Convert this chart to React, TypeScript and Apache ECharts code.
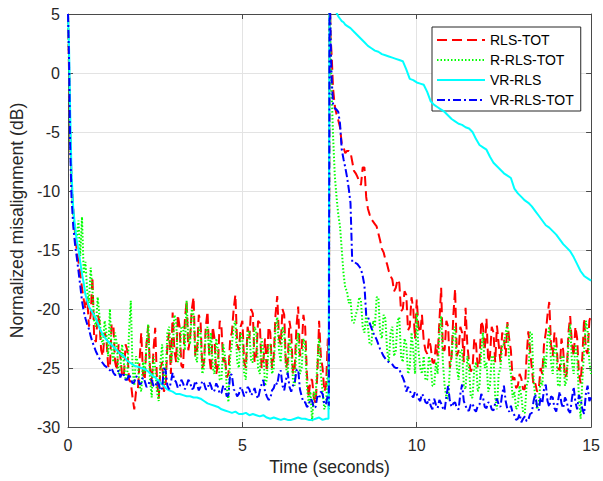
import React, { useEffect, useRef } from "react";
import * as echarts from "echarts";

// ---- time stamps (seconds) for the smooth VR-RLS curve ----
const TV1 = [
  0, 0.03, 0.06, 0.1, 0.15, 0.2, 0.25, 0.3, 0.35, 0.4, 0.45, 0.5,
  0.6, 0.7, 0.8, 0.9,
  1.0, 1.1, 1.2, 1.3, 1.4, 1.5, 1.6, 1.7, 1.8, 1.9,
  2.0, 2.1, 2.2, 2.3, 2.4, 2.5, 2.6, 2.7, 2.8, 2.9,
  3.0, 3.1, 3.2, 3.3, 3.4, 3.5, 3.6, 3.7, 3.8, 3.9,
  4.0, 4.1, 4.2, 4.3, 4.4, 4.5, 4.6, 4.7, 4.8, 4.9,
  5.0, 5.1, 5.2, 5.3, 5.4, 5.5, 5.6, 5.7, 5.8, 5.9,
  6.0, 6.1, 6.2, 6.3, 6.4, 6.5, 6.6, 6.7, 6.8, 6.9,
  7.0, 7.1, 7.2, 7.3, 7.4,
  7.47,
];
const TV2 = [
  7.5, 7.53, 7.56, 7.6, 7.65, 7.7, 7.75, 7.8, 7.85, 7.9, 7.95,
  8.0, 8.1, 8.2, 8.3, 8.4, 8.5, 8.6, 8.7, 8.8, 8.9,
  9.0, 9.1, 9.2, 9.3, 9.4, 9.5, 9.6, 9.7, 9.8, 9.9,
  10.0, 10.1, 10.2, 10.3, 10.4, 10.5, 10.6, 10.7, 10.8, 10.9,
  11.0, 11.1, 11.2, 11.3, 11.4, 11.5, 11.6, 11.7, 11.8, 11.9,
  12.0, 12.1, 12.2, 12.3, 12.4, 12.5, 12.6, 12.7, 12.8, 12.9,
  13.0, 13.1, 13.2, 13.3, 13.4, 13.5, 13.6, 13.7, 13.8, 13.9,
  14.0, 14.1, 14.2, 14.3, 14.4, 14.5, 14.6, 14.7, 14.8, 14.9,
  15.0,
];

// ---- time stamps (seconds) for the noisy TOT curves ----
const TN1 = [
  0, 0.03, 0.06, 0.1, 0.15, 0.2, 0.25, 0.3, 0.35, 0.4, 0.45,
  0.5, 0.55, 0.6, 0.65, 0.7, 0.75, 0.8, 0.85, 0.9, 0.95,
  1.0, 1.05, 1.1, 1.15, 1.2, 1.25, 1.3, 1.35, 1.4, 1.45, 1.5, 1.55, 1.6, 1.65, 1.7, 1.75, 1.8, 1.85, 1.9, 1.95,
  2.0, 2.05, 2.1, 2.15, 2.2, 2.25, 2.3, 2.35, 2.4, 2.45, 2.5, 2.55, 2.6, 2.65, 2.7, 2.75, 2.8, 2.85, 2.9, 2.95,
  3.0, 3.05, 3.1, 3.15, 3.2, 3.25, 3.3, 3.35, 3.4, 3.45, 3.5, 3.55, 3.6, 3.65, 3.7, 3.75, 3.8, 3.85, 3.9, 3.95,
  4.0, 4.05, 4.1, 4.15, 4.2, 4.25, 4.3, 4.35, 4.4, 4.45, 4.5, 4.55, 4.6, 4.65, 4.7, 4.75, 4.8, 4.85, 4.9, 4.95,
  5.0, 5.05, 5.1, 5.15, 5.2, 5.25, 5.3, 5.35, 5.4, 5.45, 5.5, 5.55, 5.6, 5.65, 5.7, 5.75, 5.8, 5.85, 5.9, 5.95,
  6.0, 6.05, 6.1, 6.15, 6.2, 6.25, 6.3, 6.35, 6.4, 6.45, 6.5, 6.55, 6.6, 6.65, 6.7, 6.75, 6.8, 6.85, 6.9, 6.95,
  7.0, 7.05, 7.1, 7.15, 7.2, 7.25, 7.3, 7.35, 7.4, 7.45,
  7.48,
];
const TN2 = [
  7.5, 7.53, 7.56,
  7.6, 7.65, 7.7, 7.75, 7.8, 7.85, 7.9, 7.95,
  8.0, 8.05, 8.1, 8.15, 8.2, 8.25, 8.3, 8.35, 8.4, 8.45, 8.5, 8.55, 8.6, 8.65, 8.7, 8.75, 8.8, 8.85, 8.9, 8.95,
  9.0, 9.05, 9.1, 9.15, 9.2, 9.25, 9.3, 9.35, 9.4, 9.45, 9.5, 9.55, 9.6, 9.65, 9.7, 9.75, 9.8, 9.85, 9.9, 9.95,
  10.0, 10.05, 10.1, 10.15, 10.2, 10.25, 10.3, 10.35, 10.4, 10.45, 10.5, 10.55, 10.6, 10.65, 10.7, 10.75, 10.8, 10.85, 10.9, 10.95,
  11.0, 11.05, 11.1, 11.15, 11.2, 11.25, 11.3, 11.35, 11.4, 11.45, 11.5, 11.55, 11.6, 11.65, 11.7, 11.75, 11.8, 11.85, 11.9, 11.95,
  12.0, 12.05, 12.1, 12.15, 12.2, 12.25, 12.3, 12.35, 12.4, 12.45, 12.5, 12.55, 12.6, 12.65, 12.7, 12.75, 12.8, 12.85, 12.9, 12.95,
  13.0, 13.05, 13.1, 13.15, 13.2, 13.25, 13.3, 13.35, 13.4, 13.45, 13.5, 13.55, 13.6, 13.65, 13.7, 13.75, 13.8, 13.85, 13.9, 13.95,
  14.0, 14.05, 14.1, 14.15, 14.2, 14.25, 14.3, 14.35, 14.4, 14.45, 14.5, 14.55, 14.6, 14.65, 14.7, 14.75, 14.8, 14.85, 14.9, 14.95,
  15.0,
];

// ---- RLS-TOT (dB) ----
const rlsTot1 = [
  5, 0.0, -5.0, -9.0, -11.5, -13.5, -15.0, -16.0, -17.0, -18.2, -19.2,
  -20.0, -19.0, -21.5, -20.5, -17.3, -22.5, -22.8, -20.5, -21.0, -23.5,
  -24.0, -22.0, -22.5, -24.8, -25.0, -21.3, -21.3, -24.5, -25.2, -23.0, -24.0, -25.6, -25.8, -23.0, -23.5, -26.0, -26.2, -27.5, -28.5, -27.0,
  -27.0, -24.5, -22.0, -25.5, -26.0, -23.0, -21.4, -25.0, -26.5, -23.5, -21.6, -26.0, -27.6, -25.0, -24.5, -27.0, -26.5, -23.0, -22.0, -25.5,
  -20.3, -23.5, -24.5, -20.5, -21.5, -24.8, -25.0, -21.0, -19.3, -23.5, -22.5, -20.0, -19.0, -24.0, -23.5, -20.5, -21.0, -25.0, -24.5, -21.5,
  -20.2, -24.0, -25.3, -21.5, -22.5, -25.5, -24.8, -21.0, -21.5, -24.5, -24.0, -25.8, -25.5, -22.5, -22.0, -20.0, -18.8, -23.0, -23.5, -21.5,
  -21.0, -24.5, -25.0, -21.5, -22.5, -20.0, -20.4, -24.5, -24.0, -21.0, -21.2, -25.0, -24.5, -22.5, -25.3, -21.5, -22.0, -25.0, -24.0, -20.5,
  -18.9, -22.5, -23.0, -20.0, -20.5, -25.0, -24.5, -21.0, -22.0, -25.5, -25.0, -21.5, -19.8, -24.0, -23.5, -20.5, -21.5, -25.5, -27.5, -26.0,
  -26.0, -27.5, -28.0, -25.5, -21.0, -24.0, -25.0, -27.0, -26.5, -22.5,
  -27.0,
];
const rlsTot2 = [
  8.0, 3.0, 1.5,
  -1.3, -2.8, -3.5, -4.0, -4.6, -6.0, -6.3, -6.8,
  -6.6, -6.6, -6.7, -7.5, -8.3, -8.5, -8.8, -9.2, -9.5, -8.0, -8.0, -10.5, -11.5, -12.0, -12.4, -12.6, -12.8, -13.0, -13.6, -14.2,
  -14.9, -15.2, -15.8, -16.2, -16.8, -17.2, -17.5, -18.5, -18.2, -17.5, -17.8, -20.2, -20.0, -18.5, -18.8, -21.8, -21.5, -19.0, -20.0, -22.5,
  -19.2, -21.5, -22.0, -20.5, -22.7, -23.5, -23.8, -22.5, -23.2, -24.5, -24.6, -23.0, -24.0, -21.0, -18.2, -23.5, -23.5, -21.0, -21.5, -25.0,
  -24.0, -20.5, -18.3, -24.0, -23.5, -21.5, -22.0, -24.5, -19.9, -23.0, -24.5, -25.3, -25.0, -22.5, -23.0, -25.0, -24.5, -21.0, -21.5, -23.5,
  -20.8, -24.5, -24.0, -21.5, -22.0, -24.5, -21.4, -23.0, -24.5, -22.0, -22.5, -24.0, -21.1, -22.5, -23.5, -26.0, -25.8, -26.7, -26.5, -25.5,
  -25.9, -26.8, -26.8, -24.0, -21.9, -23.5, -25.0, -26.5, -26.3, -27.0, -26.8, -25.0, -25.5, -23.0, -22.0, -20.5, -19.4, -23.0, -24.0, -22.0,
  -22.5, -25.0, -25.2, -22.5, -23.5, -25.8, -25.5, -22.0, -20.6, -23.0, -24.0, -21.5, -22.5, -25.5, -26.3, -24.0, -20.8, -23.5, -23.8, -21.0,
  -20.5,
];

// ---- R-RLS-TOT (dB) ----
const rRlsTot1 = [
  5, 0.5, -5.5, -9.5, -12.0, -13.5, -14.0, -12.5, -15.5, -12.2, -17.0,
  -16.0, -18.5, -19.5, -16.5, -18.4, -21.0, -21.5, -19.0, -20.5, -22.5,
  -23.0, -21.0, -22.0, -24.0, -20.0, -23.5, -24.5, -22.0, -23.0, -25.5, -25.0, -23.0, -24.5, -26.0, -25.5, -22.0, -19.3, -25.0, -26.5, -24.0,
  -24.5, -26.5, -27.0, -24.5, -25.5, -23.0, -21.3, -26.0, -27.5, -24.0, -25.0, -27.0, -27.8, -24.5, -23.0, -26.5, -25.5, -22.0, -21.5, -24.5,
  -23.5, -20.5, -21.0, -24.5, -24.0, -21.5, -21.5, -23.5, -19.3, -22.5, -23.0, -20.0, -20.5, -24.0, -24.5, -21.5, -22.0, -25.5, -25.0, -22.0,
  -21.5, -24.0, -22.0, -25.0, -25.5, -22.5, -23.5, -26.0, -26.0, -23.0, -24.0, -26.5, -27.9, -24.0, -23.0, -21.5, -21.0, -24.5, -25.0, -22.0,
  -22.5, -25.5, -26.0, -22.0, -21.8, -24.5, -24.5, -21.5, -22.0, -25.0, -25.5, -22.5, -23.5, -26.5, -26.0, -23.0, -23.0, -25.5, -25.0, -21.5,
  -20.7, -23.5, -24.5, -21.5, -22.0, -25.0, -25.5, -22.5, -23.5, -26.0, -26.5, -23.0, -22.0, -25.5, -25.0, -22.5, -23.0, -26.5, -28.0, -27.0,
  -29.5, -27.0, -27.5, -24.5, -22.5, -25.5, -27.0, -28.5, -28.0, -25.0,
  -28.5,
];
const rRlsTot2 = [
  8.0, 2.0, -1.7,
  -5.3, -8.7, -10.5, -12.0, -13.0, -15.0, -17.0, -18.2,
  -18.5, -19.5, -19.2, -21.0, -21.2, -20.5, -20.0, -19.0, -19.3, -21.5, -22.0, -20.5, -21.5, -23.0, -23.0, -21.0, -21.5, -19.0, -19.0, -22.0,
  -22.5, -20.5, -20.8, -23.5, -24.5, -22.0, -21.5, -24.0, -23.5, -21.0, -20.7, -24.0, -24.5, -22.5, -23.0, -25.5, -25.0, -22.0, -23.5, -25.5,
  -20.3, -23.5, -25.0, -25.5, -24.0, -26.0, -26.0, -24.0, -24.8, -26.5, -26.5, -24.5, -25.5, -22.0, -20.6, -24.5, -26.5, -27.5, -27.6, -25.0,
  -24.0, -22.0, -21.5, -25.0, -26.0, -23.5, -23.5, -26.5, -26.8, -24.0, -25.0, -27.5, -27.5, -25.0, -24.5, -27.0, -26.5, -23.5, -22.0, -25.0,
  -24.5, -27.0, -26.5, -24.0, -24.0, -27.5, -28.5, -25.5, -25.0, -23.0, -23.0, -22.0, -21.3, -24.5, -25.5, -27.5, -27.0, -28.5, -28.2, -26.5,
  -27.4, -28.8, -28.8, -26.5, -26.0, -22.0, -22.0, -26.0, -27.5, -28.5, -28.0, -26.0, -26.5, -24.0, -25.0, -22.5, -21.5, -24.5, -25.5, -23.0,
  -23.5, -26.5, -26.5, -24.0, -24.0, -26.5, -26.0, -23.0, -21.3, -24.5, -25.5, -23.0, -24.0, -27.5, -29.3, -26.0, -23.5, -21.0, -21.8, -24.5,
  -25.5,
];

// ---- VR-RLS (dB) ----
const vrRls1 = [
  5, 2.0, -3.0, -8.5, -11.5, -13.0, -14.2, -15.0, -16.0, -17.0, -17.8, -18.8,
  -19.8, -20.3, -20.8, -21.6,
  -22.2, -22.6, -22.9, -23.2, -23.5, -23.8, -24.0, -24.4, -24.6, -24.8,
  -24.9, -25.0, -25.1, -25.3, -25.6, -25.8, -26.1, -26.4, -26.7, -26.9,
  -27.0, -27.2, -27.2, -27.3, -27.4, -27.4, -27.5, -27.5, -27.6, -27.8,
  -28.0, -28.1, -28.2, -28.3, -28.5, -28.6, -28.7, -28.8, -28.7, -28.9,
  -28.9, -28.8, -29.0, -28.9, -29.0, -29.1, -29.0, -29.2, -29.3, -29.2,
  -29.3, -29.4, -29.3, -29.4, -29.4, -29.3, -29.2, -29.3, -29.3, -29.4,
  -29.4, -29.3, -29.2, -29.4, -29.3,
  -29.3,
];
const vrRls2 = [
  8.0, 7.5, 7.0, 6.2, 5.6, 5.1, 4.8, 4.6, 4.4, 4.3, 4.1,
  4.0, 3.8, 3.5, 3.2, 2.9, 2.6, 2.3, 2.1, 1.9, 1.8,
  1.6, 1.5, 1.4, 1.3, 1.2, 1.1, 1.0, 0.3, -0.5, -0.6,
  -0.8, -0.9, -1.0, -1.6, -2.4, -2.7, -2.9, -3.1, -3.3, -3.6,
  -3.9, -4.1, -4.3, -4.4, -4.6, -4.7, -5.0, -5.6, -6.1, -6.3,
  -6.5, -7.1, -7.6, -7.9, -8.2, -8.5, -8.7, -8.9, -9.8, -10.2,
  -10.5, -10.8, -11.0, -11.3, -11.7, -12.1, -12.5, -12.9, -13.1, -13.4,
  -13.7, -14.1, -14.5, -14.8, -15.1, -15.6, -16.2, -16.8, -17.2, -17.4,
  -17.6,
];

// ---- VR-RLS-TOT (dB) ----
const vrRlsTot1 = [
  5, 1.0, -6.0, -10.5, -13.0, -14.5, -15.6, -16.8, -18.0, -19.3, -20.2,
  -20.8, -21.3, -21.7, -22.3, -22.8, -23.2, -23.6, -23.9, -24.2, -24.4,
  -24.6, -24.8, -24.9, -25.1, -25.2, -25.0, -25.4, -25.6, -25.5, -25.2, -25.8, -25.4, -25.6, -26.0, -26.0, -25.5, -25.9, -26.3, -26.2, -25.7,
  -25.8, -26.4, -26.3, -25.8, -26.1, -26.6, -26.5, -26.0, -26.0, -26.5, -26.6, -26.1, -26.4, -26.9, -26.7, -25.0, -25.2, -26.5, -26.8, -26.2,
  -25.4, -26.0, -26.2, -26.7, -26.6, -26.0, -26.3, -26.8, -26.5, -26.0, -26.2, -26.8, -26.7, -26.1, -26.4, -26.9, -26.6, -26.1, -26.3, -26.8,
  -26.8, -26.2, -26.5, -27.0, -26.9, -26.3, -26.6, -27.2, -27.1, -26.5, -26.7, -27.4, -27.3, -25.5, -25.6, -26.8, -27.0, -27.4, -27.2, -26.6,
  -26.9, -27.4, -27.2, -26.6, -26.8, -27.3, -27.1, -26.7, -27.3, -27.6, -26.9, -26.4, -26.0, -27.0, -27.4, -27.7, -27.6, -26.9, -26.7, -26.2,
  -26.4, -25.5, -25.2, -26.5, -26.9, -26.0, -25.4, -26.6, -27.0, -26.5, -26.3, -25.2, -25.1, -26.8, -27.4, -27.9, -27.9, -28.3, -28.2, -27.6,
  -27.8, -28.4, -28.3, -27.4, -27.6, -27.0, -27.2, -28.1, -28.0, -27.3,
  -28.2,
];
const vrRlsTot2 = [
  8.0, 3.0, -0.5,
  -2.6, -3.0, -3.1, -3.3, -4.3, -6.5, -7.3, -8.0,
  -8.8, -9.8, -11.0, -16.0, -16.0, -16.1, -16.2, -16.4, -16.6, -17.2, -18.0, -20.5, -20.6, -21.2, -21.6, -22.0, -22.3, -22.6, -23.0, -23.4,
  -23.7, -24.0, -24.2, -24.4, -24.5, -24.6, -24.7, -24.9, -25.0, -25.0, -25.1, -25.5, -25.8, -26.2, -27.0, -26.6, -26.9, -27.3, -27.5, -27.0,
  -27.2, -27.6, -27.8, -27.2, -27.4, -27.9, -28.0, -27.6, -28.2, -28.5, -27.6, -28.1, -28.4, -27.7, -28.0, -28.4, -28.6, -27.4, -26.5, -27.8,
  -28.3, -28.0, -27.9, -28.4, -28.5, -27.2, -26.4, -27.8, -28.2, -28.6, -28.6, -28.1, -28.0, -28.5, -28.7, -28.2, -28.1, -27.2, -27.5, -28.3,
  -28.4, -27.9, -28.0, -28.5, -28.6, -28.0, -27.6, -28.1, -28.3, -27.2, -26.5, -27.8, -28.5, -28.7, -28.2, -28.8, -29.0, -29.4, -29.3, -28.9,
  -29.6, -29.3, -29.1, -29.5, -29.4, -28.9, -28.8, -27.8, -27.2, -28.3, -28.6, -27.5, -28.0, -26.8, -26.4, -27.8, -28.3, -27.4, -27.5, -28.4,
  -28.7, -27.8, -27.0, -28.0, -28.4, -27.5, -27.8, -28.6, -28.8, -27.6, -26.6, -27.9, -28.5, -27.3, -27.6, -28.5, -28.9, -27.2, -26.5, -27.8,
  -27.5,
];

const SERIES_NAMES = ["RLS-TOT", "R-RLS-TOT", "VR-RLS", "VR-RLS-TOT"];
const X_TICKS = { min: 0, max: 15, interval: 5 };
const Y_TICKS = { min: -30, max: 5, interval: 5 };

function pairs(a: number[], va: number[], b: number[], vb: number[]) {
  const out: number[][] = [];
  for (let i = 0; i < Math.min(a.length, va.length); i++) out.push([a[i], va[i]]);
  for (let i = 0; i < Math.min(b.length, vb.length); i++) out.push([b[i], vb[i]]);
  return out;
}

const FONT = "'Liberation Sans', Arial, Helvetica, sans-serif";
const AX = "#262626";

export default function App() {
  const ref = useRef<HTMLDivElement>(null);
  useEffect(() => {
    const chart = echarts.init(ref.current!, null, { renderer: "svg" });
    const axisLine = { show: true, onZero: false, lineStyle: { color: "#4a4a4a", width: 1 } };
    const axisTick = { show: true, inside: true, length: 5, lineStyle: { color: "#4a4a4a", width: 1 } };
    const lineSeries = (name: string, data: number[][], color: string, type: any, width: number, z: number) => ({
      name,
      type: "line",
      data,
      symbol: "none",
      showSymbol: false,
      clip: true,
      z,
      lineStyle: { color, width, type },
      itemStyle: { color },
    });
    chart.setOption({
      animation: false,
      backgroundColor: "#ffffff",
      textStyle: { fontFamily: FONT },
      grid: { left: 66, right: 9, top: 14, bottom: 51, containLabel: false },
      legend: {
        data: SERIES_NAMES,
        orient: "vertical",
        left: 432,
        top: 27,
        itemWidth: 48,
        itemHeight: 14,
        itemGap: 6,
        padding: [6, 7, 4, 4],
        backgroundColor: "#ffffff",
        borderColor: AX,
        borderWidth: 1,
        borderRadius: 0,
        itemStyle: { opacity: 0 },
        textStyle: { fontSize: 14, color: "#000000", fontFamily: FONT },
      },
      xAxis: [
        {
          type: "value",
          position: "bottom",
          ...X_TICKS,
          axisLine,
          axisTick,
          axisLabel: { fontSize: 16, color: AX, margin: 10, fontFamily: FONT },
          splitLine: { show: true, lineStyle: { color: "#e3e3e3", width: 1 } },
          name: "Time (seconds)",
          nameLocation: "middle",
          nameGap: 31,
          nameTextStyle: { fontSize: 17.6, color: AX, fontFamily: FONT },
        },
        {
          type: "value",
          position: "top",
          ...X_TICKS,
          axisLine,
          axisTick,
          axisLabel: { show: false },
          splitLine: { show: false },
        },
      ],
      yAxis: [
        {
          type: "value",
          position: "left",
          ...Y_TICKS,
          axisLine,
          axisTick,
          axisLabel: { fontSize: 16, color: AX, margin: 8, fontFamily: FONT },
          splitLine: { show: true, lineStyle: { color: "#e3e3e3", width: 1 } },
          name: "Normalized misalignment (dB)",
          nameLocation: "middle",
          nameGap: 33,
          nameTextStyle: { fontSize: 17.6, color: AX, fontFamily: FONT },
        },
        {
          type: "value",
          position: "right",
          ...Y_TICKS,
          axisLine,
          axisTick,
          axisLabel: { show: false },
          splitLine: { show: false },
        },
      ],
      series: [
        lineSeries(SERIES_NAMES[0], pairs(TN1, rlsTot1, TN2, rlsTot2), "#ff0000", [10, 5], 2, 2),
        lineSeries(SERIES_NAMES[1], pairs(TN1, rRlsTot1, TN2, rRlsTot2), "#00ff00", [1.5, 2], 2, 3),
        lineSeries(SERIES_NAMES[2], pairs(TV1, vrRls1, TV2, vrRls2), "#00ffff", "solid", 2, 4),
        lineSeries(SERIES_NAMES[3], pairs(TN1, vrRlsTot1, TN2, vrRlsTot2), "#0000ff", [8, 3, 2, 3], 2, 5),
      ],
    });
    return () => chart.dispose();
  }, []);
  return (
    <div
      ref={ref}
      style={{ position: "fixed", left: 0, top: 0, width: 603, height: 481, background: "#ffffff" }}
    />
  );
}
